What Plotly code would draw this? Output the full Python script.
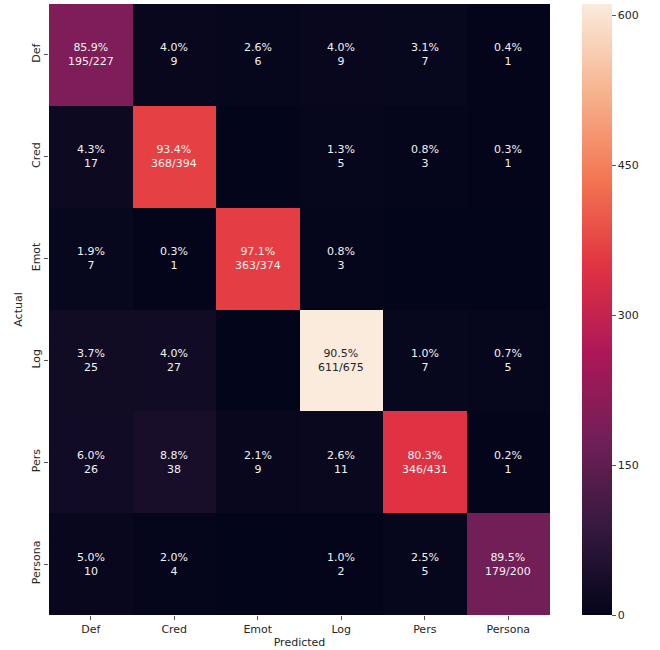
import plotly.graph_objects as go

labels = ["Def", "Cred", "Emot", "Log", "Pers", "Persona"]
counts = [
    [195, 9, 6, 9, 7, 1],
    [17, 368, 0, 5, 3, 1],
    [7, 1, 363, 3, 0, 0],
    [25, 27, 0, 611, 7, 5],
    [26, 38, 9, 11, 346, 1],
    [10, 4, 0, 2, 5, 179],
]
cbar_ticks = [0, 150, 300, 450, 600]

rocket = [
    [0.0, "#03051a"],
    [1 / 7, "#35193e"],
    [2 / 7, "#701f57"],
    [3 / 7, "#ad1759"],
    [4 / 7, "#e13342"],
    [5 / 7, "#f37651"],
    [6 / 7, "#f6b48f"],
    [1.0, "#faebdd"],
]

zmax = max(max(r) for r in counts)

fig = go.Figure()
fig.add_trace(go.Heatmap(
    z=counts, x=labels, y=labels,
    colorscale=rocket, zmin=0, zmax=zmax,
    hoverinfo="skip",
    colorbar=dict(
        x=(582 - 49) / 501, xanchor="left", xpad=0, ypad=0,
        y=1.0, yanchor="top",
        len=1.0, lenmode="fraction", thickness=30,
        outlinewidth=0,
        tickvals=cbar_ticks, ticks="outside", ticklen=4, tickcolor="#555555",
        tickfont=dict(family="DejaVu Sans", size=11, color="#262626"),
    ),
))

annotations = []
for i, row in enumerate(counts):
    total = sum(row)
    for j, c in enumerate(row):
        if c == 0:
            continue
        pct = 100.0 * c / total
        if i == j:
            txt = f"{pct:.1f}%<br>{c}/{total}"
        else:
            txt = f"{pct:.1f}%<br>{c}"
        color = "#262626" if c / zmax > 0.75 else "#f2f2f2"
        annotations.append(dict(
            x=labels[j], y=labels[i], xref="x", yref="y", text=txt,
            showarrow=False, font=dict(family="DejaVu Sans", size=11, color=color),
        ))

fig.update_layout(
    width=660, height=650,
    margin=dict(l=49, r=110, t=4, b=35),
    paper_bgcolor="white", plot_bgcolor="white",
    font=dict(family="DejaVu Sans", size=11, color="#262626"),
    annotations=annotations,
    xaxis=dict(
        title=dict(text="Predicted", standoff=3, font=dict(size=11)),
        ticks="outside", ticklen=4, tickcolor="#555555",
        showgrid=False, zeroline=False, showline=False,
        tickfont=dict(size=11),
    ),
    yaxis=dict(
        title=dict(text="Actual", standoff=4, font=dict(size=11)),
        autorange="reversed",
        ticks="outside", ticklen=4, tickcolor="#555555", tickangle=-90,
        showgrid=False, zeroline=False, showline=False,
        tickfont=dict(size=11),
    ),
)

fig.write_html("out.html")
